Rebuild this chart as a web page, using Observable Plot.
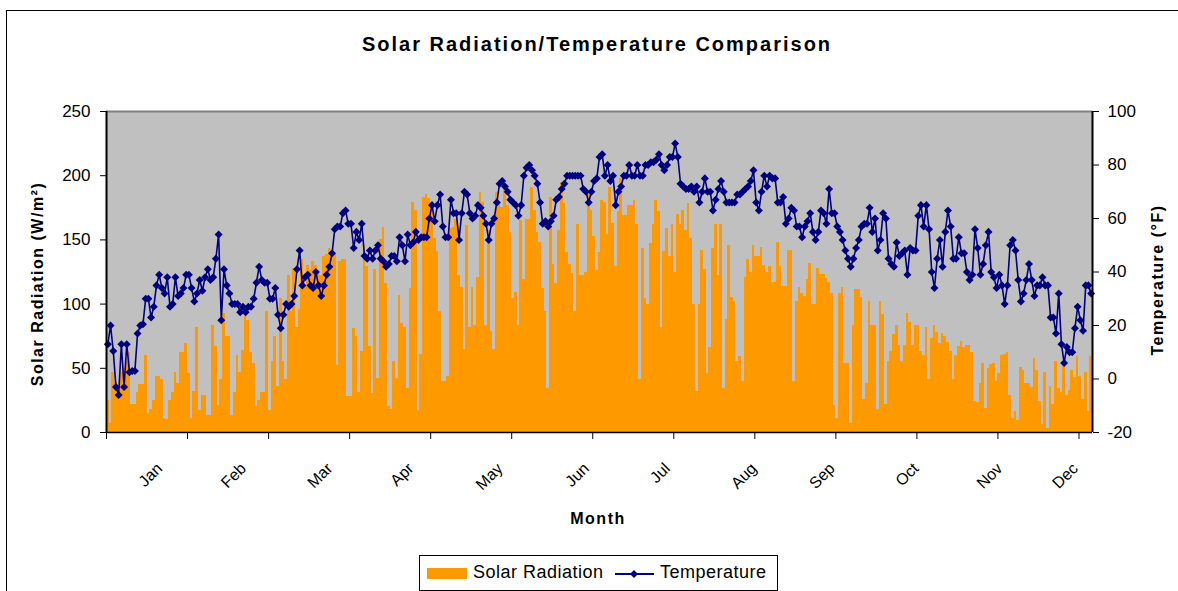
<!DOCTYPE html>
<html><head><meta charset="utf-8">
<script src="https://cdn.jsdelivr.net/npm/d3@7"></script>
<script src="https://cdn.jsdelivr.net/npm/@observablehq/plot@0.6"></script>
<style>
html,body{margin:0;padding:0;background:#fff;overflow:hidden;}
#wrap{position:relative;width:1178px;height:591px;overflow:hidden;font-family:"Liberation Sans",Arial,sans-serif;color:#000;}
#border{position:absolute;left:6px;top:10px;width:1300px;height:700px;border:1px solid #000;box-sizing:border-box;}
#chart{position:absolute;left:0;top:0;}
.lbl{position:absolute;white-space:nowrap;font-weight:bold;transform:translate(-50%,-50%);}
.rot{transform:translate(-50%,-50%) rotate(-90deg);}
#legend{position:absolute;left:419px;top:555px;width:359px;height:36px;border:1px solid #000;box-sizing:border-box;background:#fff;font-size:18px;letter-spacing:0.5px;}
#legend span{position:absolute;white-space:nowrap;}
</style></head>
<body>
<div id="wrap">
  <div id="border"></div>
  <div id="chart"></div>
  <div class="lbl" id="title" style="left:597px;top:44px;font-size:20px;letter-spacing:2px;">Solar Radiation/Temperature Comparison</div>
  <div class="lbl rot" style="left:38px;top:284px;font-size:16px;letter-spacing:1.5px;">Solar Radiation (W/m²)</div>
  <div class="lbl rot" style="left:1158px;top:280px;font-size:16px;letter-spacing:1.5px;">Temperature (°F)</div>
  <div class="lbl" style="left:598px;top:519px;font-size:16px;letter-spacing:1.5px;">Month</div>
  <div id="legend">
    <span style="left:7px;top:12px;width:40px;height:11px;background:#ff9900;"></span>
    <span style="left:53px;top:6px;">Solar Radiation</span>
    <svg style="position:absolute;left:194px;top:10px;" width="42" height="16"><line x1="1" y1="8" x2="40" y2="8" stroke="#000080" stroke-width="2"/><path d="M20 4 L24 8 L20 12 L16 8 Z" fill="#000080"/></svg>
    <span style="left:240px;top:6px;">Temperature</span>
  </div>
</div>
<script>
// Daily solar radiation (W/m²), day 0..364
const solar = [
 25,7,47,39,29,47,50,55,62,22, 22,31,37,37,60,15,18,25,44,44, 41,11,10,25,31,47,38,62,62,69,
 46,11,32,82,17,29,29,13,13,83, 67,21,41,93,75,75,13,31,60,47, 64,90,87,62,54,20,25,31,31,94, 17,
 55,75,36,104,55,41,122,94,128,82, 96,135,114,130,126,133,130,124,122,137, 139,143,137,139,52,133,135,135,28,28,
 81,75,31,63,146,129,67,30,127,42, 150,160,116,20,18,55,42,107,85,82, 34,112,179,173,17,61,183,185,182,179, 151,
 141,94,40,40,44,159,160,166,122,113, 65,161,82,113,83,121,187,179,83,157, 79,65,187,179,175,192,177,156,104,109,
 83,165,119,166,166,191,173,156,148,112, 94,34,183,131,116,157,195,178,140,131, 124,94,162,122,122,125,185,173,153,126, 140,
 181,179,154,191,163,129,172,198,169,169, 177,177,181,162,41,143,104,100,147,162, 181,172,82,141,159,137,162,125,170,162,
 173,157,178,151,100,32,100,142,127,46, 66,143,162,122,162,34,88,146,105,102, 55,59,40,121,135,125,146,137,137,144, 130,
 125,129,117,117,148,129,114,114,142,142, 40,102,113,108,106,119,132,100,100,128, 123,123,120,117,108,21,11,108,113,54,
 54,7,83,111,111,105,26,38,102,83, 83,18,102,92,22,55,63,76,83,68, 55,68,93,86,68,83,83,63,60,82, 41,
 73,83,78,69,77,75,70,63,41,60, 67,71,66,68,68,62,24,23,38,54, 19,50,53,54,40,46,60,61,62,29,
 11,16,9,51,48,38,38,35,58,48, 24,6,47,3,36,22,55,34,31,55, 29,33,48,43,59,44,26,47,16,59
];
// Daily temperature (°F), day 0..364
const temperature = [
 13,20,10.5,-3,-6,13,-3,13,2.5,3, 3,17,20,20.5,30,30,23,27,35,39, 34,32,38,27,28,38,31,32,34,39,
 39,34,29,32,37,33,38,41,37,38, 45,54,22,41,35,32,28,28,28,25, 27,25,27,27,30,36,42,37,36,36, 30,
 30,34,24,19,24,28,27,28,31,41, 48,35,38,39,35,34,40,35,31,35, 39,42,47,56,57,57,62,63,58,58,
 49,55,52,58,46,45,48,45,48,50, 45,44,42,43,46,46,44,53,50,44, 54,50,51,55,52,53,53,53,60,65, 59,
 65,69,57,53,53,67,62,62,52,62, 70,69,62,60,61,65,64,61,58,52, 58,60,66,73,74,72,70,67,66,65,
 61,65,76,79,80,78,76,73,66,58, 59,57,59,61,67,68,71,73,76,76, 76,76,76,76,71,70,66,70,74,75, 83,
 84,76,80,74,76,65,70,72,76,76, 80,76,76,80,76,76,80,80,81,81, 82,84,80,78,80,83,83,88,83,73,
 72,71,71,72,70,72,66,70,75,70, 70,63,67,71,74,70,66,66,66,66, 69,69,70,71,72,74,78,66,63,70, 76,
 72,76,75,75,66,66,68,58,60,64, 63,57,57,53,57,59,62,55,52,55, 63,62,58,71,62,62,57,55,52,48,
 45,42,45,49,52,57,58,58,64,55, 60,48,52,62,60,45,43,42,51,46, 47,48,39,49,48,48,61,65,57,65, 56,
 40,34,45,52,42,55,63,57,45,45, 53,47,47,40,37,39,56,49,39,43, 50,55,40,38,34,39,35,28,35,50,
 52,48,37,29,32,37,43,37,31,35, 35,38,35,35,23,23,17,32,13,6, 12,10,10,19,27,22,18,35,35,32
];
const monthLabels = ["Jan","Feb","Mar","Apr","May","Jun","Jul","Aug","Sep","Oct","Nov","Dec"];
const monthPos = [21,52,84,114,147,179,209,241,270,301,332,360];
const solarTicks = [0,50,100,150,200,250];
const tempTicks = [-20,0,20,40,60,80,100];
const xTickDays = [0,30,60,90,120,150,180,210,240,270,300,330,360];

const toLeft = t => (t + 20) * 250 / 120;
const days = d3.range(solar.length);

const chart = Plot.plot({
  width: 1178, height: 591,
  marginLeft: 106, marginRight: 86, marginTop: 111, marginBottom: 159,
  style: {fontFamily: '"Liberation Sans", Arial, sans-serif', fontSize: "17px", color: "#000", background: "transparent", overflow: "visible"},
  x: {domain: [0, 365], axis: null},
  y: {domain: [0, 250], axis: null},
  marks: [
    Plot.frame({fill: "#c0c0c0", stroke: null}),
    Plot.rectY(days, {x1: d => d, x2: d => d + 1, y1: 0, y2: d => solar[d], fill: "#ff9900", shapeRendering: "crispEdges"}),
    Plot.ruleY([250], {stroke: "#808080", strokeWidth: 2}),
    Plot.line(days, {x: d => d + 0.5, y: d => toLeft(temperature[d]), stroke: "#000080", strokeWidth: 1.6}),
    Plot.dot(days, {x: d => d + 0.5, y: d => toLeft(temperature[d]), symbol: "square", r: 3.2, rotate: 45, fill: "#000080", stroke: null}),
    Plot.ruleX([0, 365], {stroke: "#000", strokeWidth: 2}),
    Plot.ruleY([0], {stroke: "#000", strokeWidth: 1.5}),
    Plot.axisY({ticks: solarTicks, tickSize: 6, tickPadding: 10, label: null, tickFormat: d => String(d)}),
    Plot.axisY({anchor: "right", ticks: tempTicks.map(toLeft), tickSize: 6, tickPadding: 9, label: null,
      tickFormat: v => String(Math.round(v * 120 / 250 - 20))}),
    Plot.axisX({ticks: xTickDays, tickSize: 7, tickFormat: () => "", label: null}),
    Plot.text(monthLabels, {x: (d, i) => monthPos[i], frameAnchor: "bottom", dy: 37, rotate: -45, textAnchor: "end", fontSize: 16})
  ]
});
document.getElementById("chart").appendChild(chart);
</script>
</body></html>
